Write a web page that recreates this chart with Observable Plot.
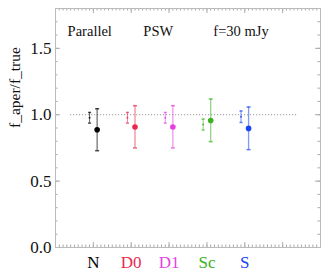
<!DOCTYPE html>
<html>
<head>
<meta charset="utf-8">
<script src="https://cdn.jsdelivr.net/npm/d3@7"></script>
<script src="https://cdn.jsdelivr.net/npm/@observablehq/plot@0.6"></script>
<style>
  html, body { margin: 0; padding: 0; background: #fff; }
</style>
</head>
<body>
<div id="chart"></div>
<script>
const categories = ["N", "D0", "D1", "Sc", "S"];
const colors = ["#000000", "#e8294f", "#e63fe0", "#3daf22", "#1845f0"];
const bigMean = [0.887, 0.907, 0.907, 0.957, 0.897];
const bigLow  = [0.729, 0.750, 0.750, 0.797, 0.737];
const bigHigh = [1.045, 1.068, 1.068, 1.118, 1.058];
const smallMean = [0.977, 0.977, 0.977, 0.926, 0.985];
const smallLow  = [0.937, 0.937, 0.937, 0.885, 0.942];
const smallHigh = [1.017, 1.017, 1.017, 0.967, 1.028];
const annotations = ["Parallel", "PSW", "f=30 mJy"];
const annotationX = [0.32, 2.32, 4.17];
const annotationY = 1.63;
const refLine = {y: 1.0, x1: 0.4, x2: 6.4};
const yTickLabels = [0, 0.5, 1.0, 1.5];
const yLabel = "f_aper/f_true";

const W = 327, H = 274, mL = 55, mR = 7, mT = 8, mB = 27;
const fw = W - mL - mR, fh = H - mT - mB;

const big = categories.map((c, i) => ({c, i, x: i + 1 + 0.1, y: bigMean[i], lo: bigLow[i], hi: bigHigh[i], color: colors[i]}));
const small = categories.map((c, i) => ({c, i, x: i + 1 - 0.1, y: smallMean[i], lo: smallLow[i], hi: smallHigh[i], color: colors[i]}));
const cats = categories.map((c, i) => ({c, x: i + 1, color: colors[i]}));
const ann = annotations.map((t, i) => ({t, x: annotationX[i], y: annotationY}));

const capSymbol = {
  draw(ctx, size) {
    const r = Math.sqrt(size / Math.PI);
    ctx.moveTo(-r, 0);
    ctx.lineTo(r, 0);
  }
};

const yMajor = d3.ticks(0, 1.8, 4).filter(v => Math.abs(v * 2 - Math.round(v * 2)) < 1e-9);
const yMinor = d3.range(0, 19).map(k => k / 10);
const xMajor = d3.range(0, 8);
const xMinor = d3.range(0, 71).map(k => k / 10);
const tickColor = "#aaaaaa";

const plot = Plot.plot({
  width: W, height: H,
  marginLeft: mL, marginRight: mR, marginTop: mT, marginBottom: mB,
  x: {domain: [0, 7], axis: null},
  y: {domain: [0, 1.8], axis: null},
  style: {fontFamily: "'Liberation Serif', 'Times New Roman', serif", background: "#fff"},
  marks: [
    // minor ticks y (left & right)
    Plot.ruleY(yMinor, {stroke: tickColor, insetRight: fw - 2.5}),
    Plot.ruleY(yMinor, {stroke: tickColor, insetLeft: fw - 2.5}),
    Plot.ruleY(yMajor, {stroke: tickColor, insetRight: fw - 5}),
    Plot.ruleY(yMajor, {stroke: tickColor, insetLeft: fw - 5}),
    // x ticks (bottom & top)
    Plot.ruleX(xMinor, {stroke: tickColor, insetTop: fh - 2.5}),
    Plot.ruleX(xMinor, {stroke: tickColor, insetBottom: fh - 2.5}),
    Plot.ruleX(xMajor, {stroke: tickColor, insetTop: fh - 5}),
    Plot.ruleX(xMajor, {stroke: tickColor, insetBottom: fh - 5}),
    Plot.frame({stroke: "#bbbbbb"}),
    Plot.axisY(yTickLabels, {tickSize: 0, tickPadding: 4, tickFormat: d3.format(".1f"), fontSize: 17, fill: "#111", label: null}),
    Plot.text([yLabel], {frameAnchor: "left", rotate: -90, dx: -40, fontSize: 15.5, fill: "#111"}),
    // reference line
    Plot.ruleY([refLine], {y: "y", x1: "x1", x2: "x2", stroke: "#888", strokeDasharray: "1,2", strokeWidth: 1}),
    // small error bars
    Plot.ruleX(small, {x: "x", y1: "lo", y2: "hi", stroke: "color", strokeOpacity: 0.6}),
    Plot.dot(small, {x: "x", y: "lo", symbol: capSymbol, r: 1.5, stroke: "color", strokeOpacity: 0.7}),
    Plot.dot(small, {x: "x", y: "hi", symbol: capSymbol, r: 1.5, stroke: "color", strokeOpacity: 0.7}),
    Plot.dot(small, {x: "x", y: "y", r: 1, fill: "color", fillOpacity: 0.8}),
    // big error bars
    Plot.ruleX(big, {x: "x", y1: "lo", y2: "hi", stroke: "color", strokeOpacity: 0.55, strokeWidth: 1.3}),
    Plot.dot(big, {x: "x", y: "lo", symbol: capSymbol, r: 2, stroke: "color", strokeOpacity: 0.7}),
    Plot.dot(big, {x: "x", y: "hi", symbol: capSymbol, r: 2, stroke: "color", strokeOpacity: 0.7}),
    Plot.dot(big, {x: "x", y: "y", r: 2.8, fill: "color"}),
    // annotations
    Plot.text(ann, {x: "x", y: "y", text: "t", textAnchor: "start", fontSize: 14.5, fill: "#111"}),
    // category labels
    Plot.text(cats, {x: "x", y: () => 0, text: "c", fill: "color", fontSize: 17, dy: 15})
  ]
});
document.getElementById("chart").appendChild(plot);
</script>
</body>
</html>
